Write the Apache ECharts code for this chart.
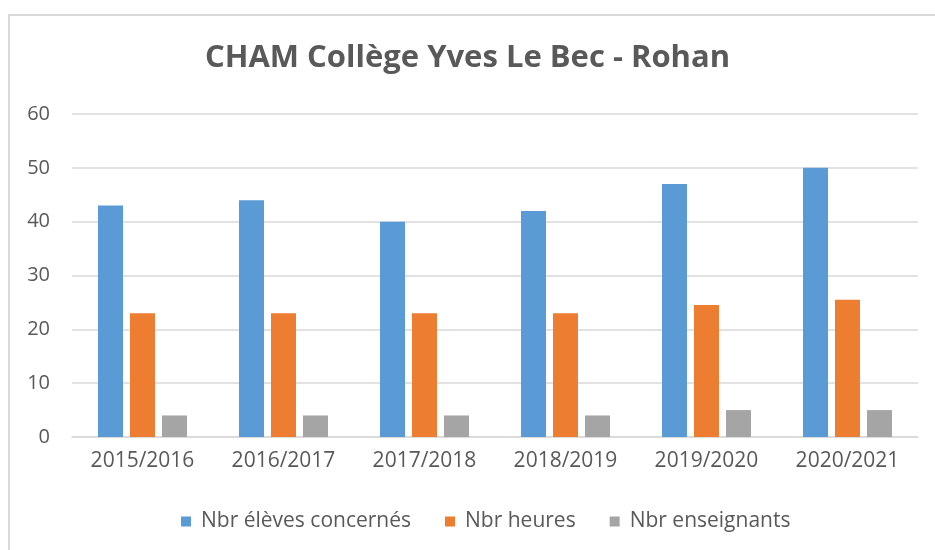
<!DOCTYPE html>
<html>
<head>
<meta charset="utf-8">
<script src="https://cdn.jsdelivr.net/npm/echarts@6/dist/echarts.min.js"></script>
<style>
  body { margin: 0; background: #fff; }
  #frame {
    position: absolute; left: 8px; top: 14px; width: 940px; height: 550px;
    border-left: 2px solid #d9d9d9; border-top: 2px solid #d9d9d9;
  }
  #chart { position: absolute; left: 0; top: 0; width: 935px; height: 550px; }
</style>
</head>
<body>
<div id="frame"></div>
<div id="chart"></div>
<script>
  const years = ['2015/2016', '2016/2017', '2017/2018', '2018/2019', '2019/2020', '2020/2021'];
  const eleves = [43, 44, 40, 42, 47, 50];
  const heures = [23, 23, 23, 23, 24.5, 25.5];
  const enseignants = [4, 4, 4, 4, 5, 5];

  const font = 'Open Sans';
  const textColor = '#595959';

  function barSeries(name, data, color) {
    return {
      name: name,
      type: 'bar',
      data: data,
      barWidth: 25,
      barGap: '28%',
      itemStyle: { color: color }
    };
  }

  let myChart = echarts.init(document.getElementById('chart'));
  myChart.setOption({
    animation: false,
    title: {
      text: 'CHAM Collège Yves Le Bec - Rohan',
      left: 'center',
      top: 38,
      textStyle: { fontFamily: font, fontSize: 31, fontWeight: 'bold', color: textColor }
    },
    legend: {
      bottom: 13,
      left: 176,
      itemWidth: 10,
      itemHeight: 10,
      itemGap: 34,
      icon: 'rect',
      textStyle: { fontFamily: font, fontSize: 21, color: textColor, padding: [0, 0, 0, 5] },
      data: ['Nbr élèves concernés', 'Nbr heures', 'Nbr enseignants']
    },
    grid: { left: 72, right: 17, top: 114, bottom: 113 },
    xAxis: {
      type: 'category',
      data: years,
      axisLine: { lineStyle: { color: '#d9d9d9', width: 1.5 } },
      axisTick: { show: false },
      axisLabel: { fontFamily: font, fontSize: 21, color: textColor, margin: 14 }
    },
    yAxis: {
      type: 'value',
      min: 0,
      max: 60,
      interval: 10,
      axisLine: { show: false },
      axisTick: { show: false },
      splitLine: { lineStyle: { color: '#d9d9d9', width: 1.5 } },
      axisLabel: { fontFamily: font, fontSize: 20, color: textColor, margin: 22 }
    },
    series: [
      barSeries('Nbr élèves concernés', eleves, '#5B9BD5'),
      barSeries('Nbr heures', heures, '#ED7D31'),
      barSeries('Nbr enseignants', enseignants, '#A5A5A5')
    ]
  });
</script>
</body>
</html>
